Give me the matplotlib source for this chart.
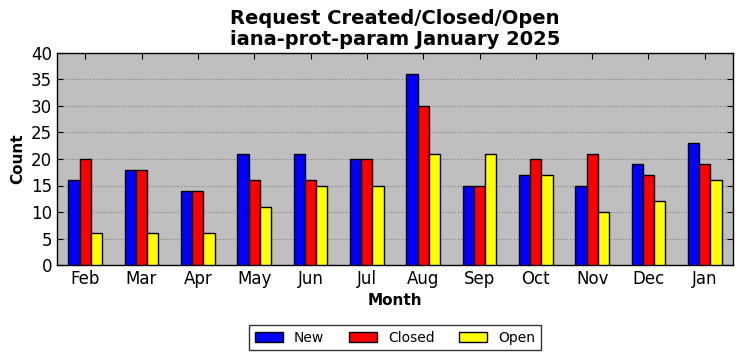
import matplotlib
matplotlib.use("Agg")
import matplotlib.pyplot as plt
import numpy as np

months = ["Feb", "Mar", "Apr", "May", "Jun", "Jul", "Aug", "Sep", "Oct", "Nov", "Dec", "Jan"]
new = [16, 18, 14, 21, 21, 20, 36, 15, 17, 15, 19, 23]
closed = [20, 18, 14, 16, 16, 20, 30, 15, 20, 21, 17, 19]
open_ = [6, 6, 6, 11, 15, 15, 21, 21, 17, 10, 12, 16]

fig = plt.figure(figsize=(7.42, 3.61), dpi=100)
ax = fig.add_axes([57/742, 1-265/361, (733-57)/742, (265-53)/361])
ax.set_facecolor("#bfbfbf")
x = np.arange(len(months))
w = 0.2
ax.bar(x - w, new, w, color="blue", edgecolor="black", linewidth=1, label="New", zorder=3)
ax.bar(x, closed, w, color="red", edgecolor="black", linewidth=1, label="Closed", zorder=3)
ax.bar(x + w, open_, w, color="yellow", edgecolor="black", linewidth=1, label="Open", zorder=3)
ax.set_xlim(-0.5, len(months) - 0.5)
ax.set_ylim(0, 40)
ax.set_yticks(range(0, 41, 5))
ax.set_xticks(x)
ax.set_xticklabels(months)
ax.tick_params(direction="in", top=True, right=True, labelsize=12, length=4)
ax.yaxis.grid(True, linestyle=":", color="#808080", linewidth=0.8, zorder=0)
ax.set_axisbelow(True)
for s in ax.spines.values():
    s.set_linewidth(1)
ax.set_xlabel("Month", fontsize=11, fontweight="bold")
ax.set_ylabel("Count", fontsize=11, fontweight="bold")
ax.set_title("Request Created/Closed/Open\niana-prot-param January 2025", fontsize=14, fontweight="bold", linespacing=1.1)
leg = fig.legend(loc="lower center", bbox_to_anchor=(395/742, 0.01), ncol=3, fontsize=10,
                 frameon=True, fancybox=False, edgecolor="black", handlelength=2.0,
                 columnspacing=1.8, handletextpad=0.8)
leg.get_frame().set_linewidth(1)
fig.savefig("out.png", dpi=100)
